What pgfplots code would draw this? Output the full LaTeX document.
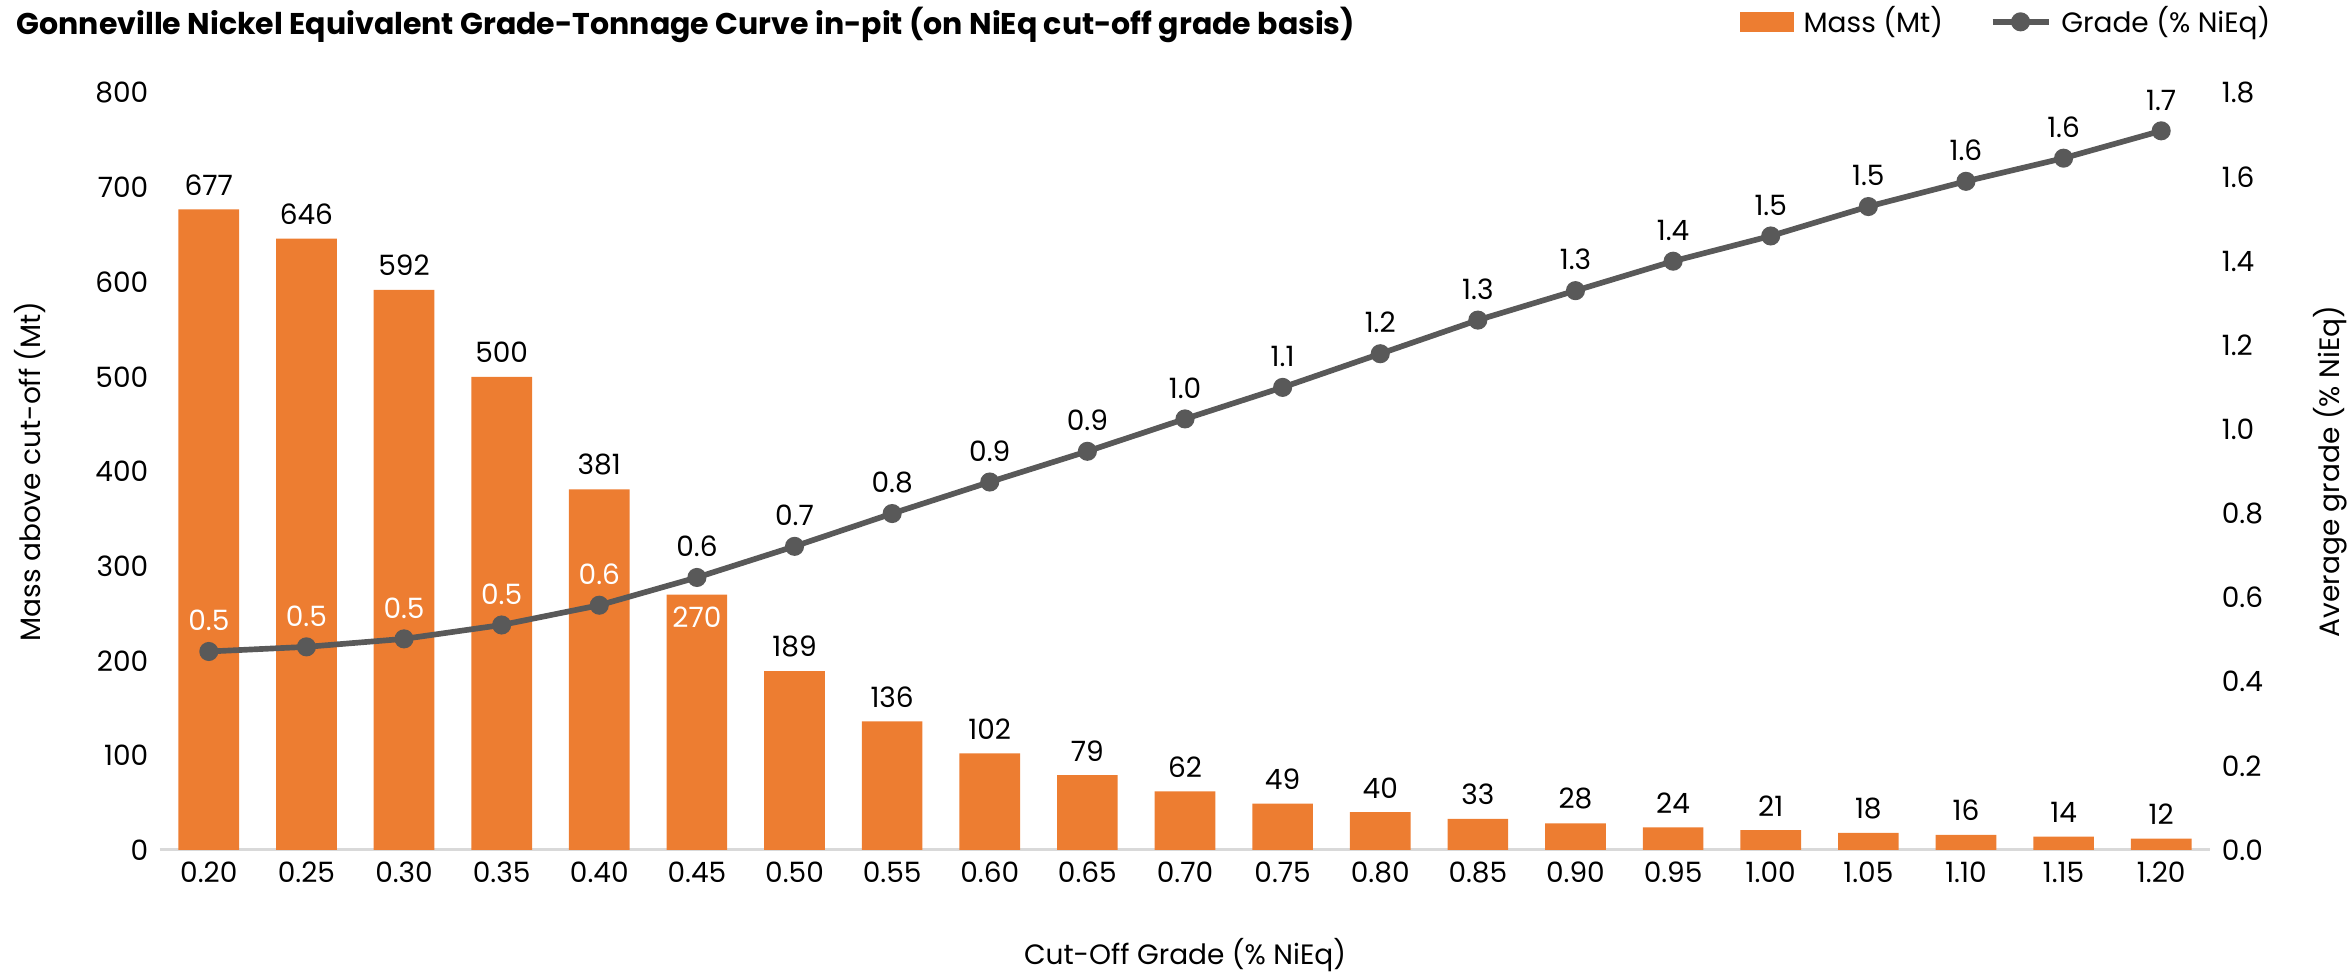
\documentclass[border=0pt]{standalone}
\usepackage{fontspec}
\setmainfont{Poppins}
\usepackage{pgfplots}
\usepackage{pgfplotstable}
\pgfplotsset{compat=1.18}
\definecolor{massorange}{HTML}{ED7D31}
\definecolor{gradegray}{HTML}{595959}
\definecolor{basegray}{HTML}{D9D9D9}
\newcommand{\chartfont}{\fontsize{8.4}{10}\selectfont}

% x = category index, cog = cut-off grade
\pgfplotstableread{
x  cog   mass  grade
0  0.20  677   0.472
1  0.25  646   0.483
2  0.30  592   0.502
3  0.35  500   0.535
4  0.40  381   0.582
5  0.45  270   0.648
6  0.50  189   0.722
7  0.55  136   0.800
8  0.60  102   0.875
9  0.65  79    0.948
10 0.70  62    1.025
11 0.75  49    1.100
12 0.80  40    1.180
13 0.85  33    1.260
14 0.90  28    1.330
15 0.95  24    1.400
16 1.00  21    1.460
17 1.05  18    1.530
18 1.10  16    1.590
19 1.15  14    1.645
20 1.20  12    1.710
}\gradetonnage

\pgfplotsset{
  every axis/.append style={
    /pgf/number format/assume math mode=true,
    font=\chartfont,
    scale only axis,
    width=615pt, height=227.1pt,
    at={(48pt,39pt)}, anchor=south west,
    xmin=-0.5, xmax=20.5,
    axis line style={draw=none},
    major tick length=0pt,
  },
}

\begin{document}
\begin{tikzpicture}
\useasboundingbox (0,0) rectangle (704.1pt,294pt);

\node[anchor=west, font=\bfseries\fontsize{9.0}{11}\selectfont] at (1.5pt,286.5pt)
  {Gonneville Nickel Equivalent Grade-Tonnage Curve in-pit (on NiEq cut-off grade basis)};

\begin{axis}[
    ybar, bar width=18.2pt, bar shift=0pt,
    ymin=0, ymax=800, ytick={0,100,...,800},
    xtick={0,...,20},
    xticklabels={0.20,0.25,0.30,0.35,0.40,0.45,0.50,0.55,0.60,0.65,0.70,0.75,0.80,0.85,0.90,0.95,1.00,1.05,1.10,1.15,1.20},
    extra y ticks={0}, extra y tick labels={},
    extra y tick style={grid=major, major grid style={draw=basegray, line width=0.9pt}},
    xlabel={Cut-Off Grade (\% NiEq)},
    xlabel style={at={(axis description cs:0.5,-0.139)}, anchor=center},
    ylabel={Mass above cut-off (Mt)},
    ylabel style={at={(axis description cs:-0.0634,0.5)}, anchor=center},
  ]
  \addplot[fill=massorange, draw=none] table[x=x, y=mass] {\gradetonnage};
  % bar labels above the bars
  \addplot[fill=none, draw=none,
    x filter/.expression={x==5 ? nan : x},
    nodes near coords={\pgfmathprintnumber[fixed,precision=0]{\pgfplotspointmeta}},
    nodes near coords style={anchor=south, inner sep=0pt, yshift=4pt, text=black, font=\chartfont}]
    table[x=x, y=mass] {\gradetonnage};
  % bar label inside the 0.45 bar
  \addplot[fill=none, draw=none,
    restrict x to domain=5:5,
    nodes near coords={\pgfmathprintnumber[fixed,precision=0]{\pgfplotspointmeta}},
    nodes near coords style={anchor=north, inner sep=0pt, yshift=-3.5pt, text=white, font=\chartfont}]
    table[x=x, y=mass] {\gradetonnage};
\end{axis}

\begin{axis}[
    hide x axis,
    ymin=0, ymax=1.8,
    ytick={0,0.2,0.4,0.6,0.8,1.0,1.2,1.4,1.6,1.8},
    yticklabel pos=right,
    yticklabel style={/pgf/number format/.cd, fixed, zerofill, precision=1},
    ylabel={Average grade (\% NiEq)},
    ylabel style={at={(axis description cs:1.0585,0.5)}, anchor=center},
    legend style={at={(axis description cs:1.033,1.094)}, anchor=east,
      draw=none, fill=none, font=\chartfont, legend columns=-1,
      /tikz/every odd column/.append style={column sep=1pt},
      /tikz/every even column/.append style={column sep=12pt},
      legend cell align=left, inner sep=0pt},
  ]
  \addlegendimage{legend image code/.code={\fill[massorange] (0pt,-2.85pt) rectangle (15.6pt,2.85pt);}}
  \addlegendentry{Mass (Mt)}
  \addplot[color=gradegray, line width=1.7pt, mark=*, mark size=2.0pt,
    legend image code/.code={
      \draw[gradegray, line width=1.7pt] (0pt,0pt) -- (16.8pt,0pt);
      \fill[gradegray] (8.4pt,0pt) circle (2.0pt);}]
    table[x=x, y=grade] {\gradetonnage};
  \addlegendentry{Grade (\% NiEq)}
  % grade labels: white inside the tall bars, black elsewhere
  \addplot[draw=none, mark=none, forget plot,
    restrict x to domain=0:4,
    nodes near coords={\pgfmathprintnumber[fixed,zerofill,precision=1]{\pgfplotspointmeta}},
    nodes near coords style={anchor=south, inner sep=0pt, yshift=6pt, text=white, font=\chartfont}]
    table[x=x, y=grade] {\gradetonnage};
  \addplot[draw=none, mark=none, forget plot,
    restrict x to domain=5:20,
    nodes near coords={\pgfmathprintnumber[fixed,zerofill,precision=1]{\pgfplotspointmeta}},
    nodes near coords style={anchor=south, inner sep=0pt, yshift=6pt, text=black, font=\chartfont}]
    table[x=x, y=grade] {\gradetonnage};
\end{axis}
\end{tikzpicture}
\end{document}
